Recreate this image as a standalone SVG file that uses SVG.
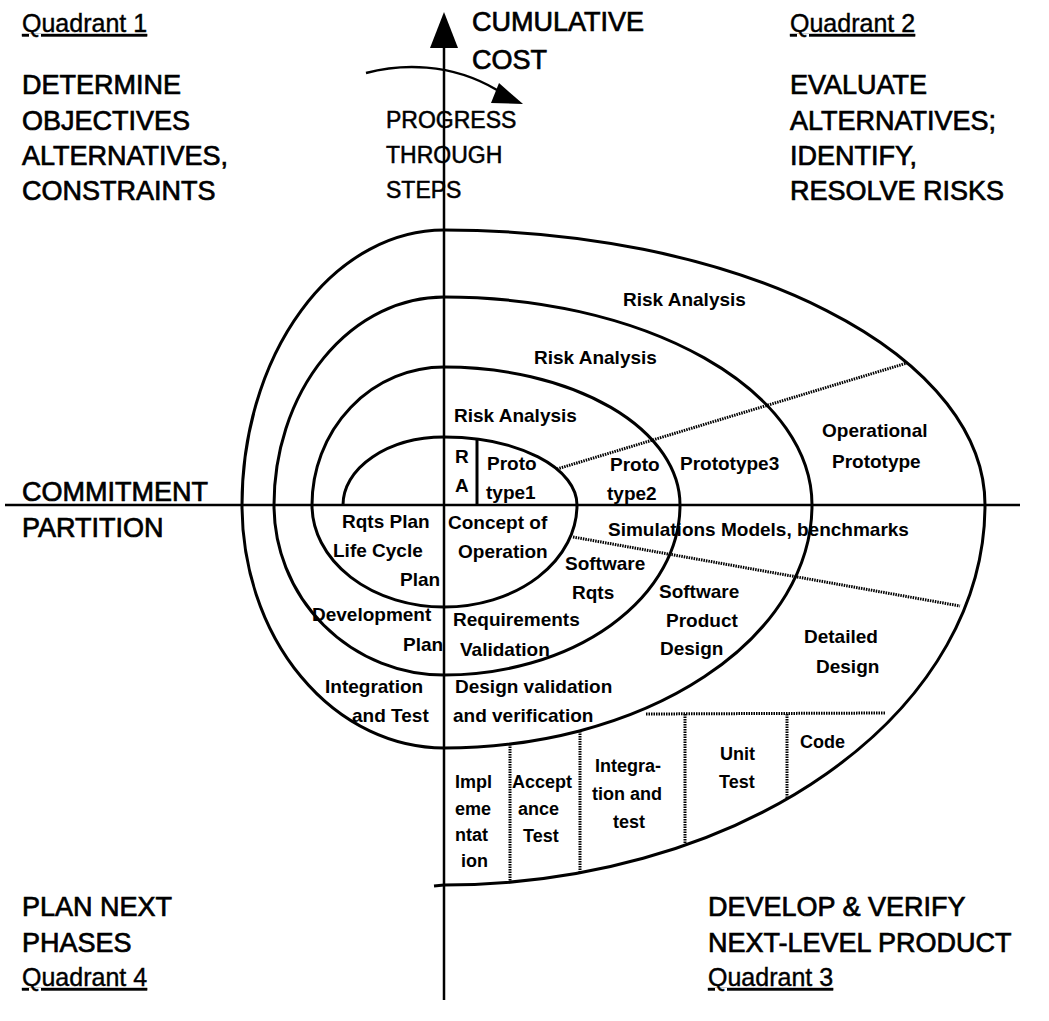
<svg xmlns="http://www.w3.org/2000/svg" width="1049" height="1021" viewBox="0 0 1049 1021">
<style>
text{font-family:"Liberation Sans",Arial,sans-serif;fill:#000}
.q{font-size:25px;text-decoration:underline;stroke:#000;stroke-width:0.4}
.big{font-size:27px;stroke:#000;stroke-width:0.7}
.mid{font-size:23px;stroke:#000;stroke-width:0.5}
.l{font-size:19px;font-weight:bold}
.s{font-size:18px;font-weight:bold}
.ln{fill:none;stroke:#000;stroke-width:3}
.ax{fill:none;stroke:#000;stroke-width:2.5}
.dot{fill:none;stroke:#000;stroke-width:3;stroke-dasharray:1.5 1}
</style>
<rect width="1049" height="1021" fill="#fff"/>

<g id="connectors">
  <g id="axes">
    <line class="ax" x1="444" y1="44" x2="444" y2="1000"/>
    <polygon points="444,12 458,48 430,48" fill="#000"/>
    <line class="ax" x1="5" y1="505" x2="1020" y2="505"/>
    <path class="ax" d="M366,73 C400,64 450,62 497,90"/>
    <polygon points="499,83 523,104 491,103" fill="#000"/>
  </g>
  <path id="spiral" class="ln" d="M343,505 A101,68 0 0 1 444,437 A133,68 0 0 1 577,505 A133,102 0 0 1 444,607 A132,102 0 0 1 312,505 A132,138 0 0 1 444,367 A236,138 0 0 1 680,505 A236,170 0 0 1 444,675 A170,170 0 0 1 274,505 A170,208 0 0 1 444,297 A368,208 0 0 1 812,505 A368,243 0 0 1 444,748 A202,243 0 0 1 242,505 A202,275 0 0 1 444,230 A541,275 0 0 1 985,505 A541,380 0 0 1 444,885 L434,886"/>
  <line class="ln" x1="477" y1="439" x2="477" y2="505"/>
  <g id="dotted">
    <line class="dot" x1="557" y1="469" x2="907" y2="363"/>
    <line class="dot" x1="573" y1="537" x2="960" y2="606"/>
    <line class="dot" x1="646" y1="714" x2="886" y2="713"/>
    <line class="dot" x1="510" y1="744" x2="510" y2="882"/>
    <line class="dot" x1="580" y1="731" x2="580" y2="873"/>
    <line class="dot" x1="685" y1="714" x2="685" y2="845"/>
    <line class="dot" x1="787" y1="714" x2="787" y2="799"/>
  </g>
</g>

<g id="quadrant1">
  <text class="q" x="22" y="32">Quadrant 1</text>
  <text class="big" x="22" y="94">DETERMINE</text>
  <text class="big" x="22" y="130">OBJECTIVES</text>
  <text class="big" x="22" y="165">ALTERNATIVES,</text>
  <text class="big" x="22" y="200">CONSTRAINTS</text>
</g>
<g id="axis-labels">
  <text class="big" x="472" y="31">CUMULATIVE</text>
  <text class="big" x="472" y="69">COST</text>
  <text class="mid" x="386" y="128">PROGRESS</text>
  <text class="mid" x="386" y="163">THROUGH</text>
  <text class="mid" x="386" y="198">STEPS</text>
  <text class="big" x="22" y="501">COMMITMENT</text>
  <text class="big" x="22" y="537">PARTITION</text>
</g>
<g id="quadrant2">
  <text class="q" x="790" y="32">Quadrant 2</text>
  <text class="big" x="790" y="94">EVALUATE</text>
  <text class="big" x="790" y="130">ALTERNATIVES;</text>
  <text class="big" x="790" y="165">IDENTIFY,</text>
  <text class="big" x="790" y="200">RESOLVE RISKS</text>
</g>
<g id="quadrant4">
  <text class="big" x="22" y="916">PLAN NEXT</text>
  <text class="big" x="22" y="952">PHASES</text>
  <text class="q" x="22" y="986">Quadrant 4</text>
</g>
<g id="quadrant3">
  <text class="big" x="708" y="916">DEVELOP &amp; VERIFY</text>
  <text class="big" x="708" y="952">NEXT-LEVEL PRODUCT</text>
  <text class="q" x="708" y="986">Quadrant 3</text>
</g>

<g id="risk-analysis">
  <text class="l" x="623" y="306">Risk Analysis</text>
  <text class="l" x="534" y="364">Risk Analysis</text>
  <text class="l" x="454" y="422">Risk Analysis</text>
  <text class="l" x="455" y="463">R</text>
  <text class="l" x="455" y="492">A</text>
</g>
<g id="prototypes">
  <text class="l" x="487" y="470">Proto</text>
  <text class="l" x="486" y="499">type1</text>
  <text class="l" x="610" y="471">Proto</text>
  <text class="l" x="607" y="500">type2</text>
  <text class="l" x="680" y="470">Prototype3</text>
  <text class="l" x="822" y="437">Operational</text>
  <text class="l" x="832" y="468">Prototype</text>
  <text class="l" x="608" y="536">Simulations Models, benchmarks</text>
</g>
<g id="plans">
  <text class="l" x="342" y="528">Rqts Plan</text>
  <text class="l" x="333" y="557">Life Cycle</text>
  <text class="l" x="400" y="586">Plan</text>
  <text class="l" x="312" y="621">Development</text>
  <text class="l" x="403" y="651">Plan</text>
  <text class="l" x="325" y="693">Integration</text>
  <text class="l" x="352" y="722">and Test</text>
</g>
<g id="requirements">
  <text class="l" x="448" y="529">Concept of</text>
  <text class="l" x="458" y="558">Operation</text>
  <text class="l" x="565" y="570">Software</text>
  <text class="l" x="572" y="599">Rqts</text>
  <text class="l" x="453" y="626">Requirements</text>
  <text class="l" x="460" y="656">Validation</text>
  <text class="l" x="659" y="598">Software</text>
  <text class="l" x="666" y="627">Product</text>
  <text class="l" x="660" y="655">Design</text>
  <text class="l" x="804" y="643">Detailed</text>
  <text class="l" x="816" y="673">Design</text>
  <text class="l" x="455" y="693">Design validation</text>
  <text class="l" x="453" y="722">and verification</text>
</g>
<g id="build-steps">
  <text class="s" x="455" y="788">Impl</text>
  <text class="s" x="455" y="815">eme</text>
  <text class="s" x="455" y="841">ntat</text>
  <text class="s" x="461" y="867">ion</text>
  <text class="s" x="512" y="788">Accept</text>
  <text class="s" x="518" y="815">ance</text>
  <text class="s" x="523" y="842">Test</text>
  <text class="s" x="595" y="772">Integra-</text>
  <text class="s" x="592" y="800">tion and</text>
  <text class="s" x="613" y="828">test</text>
  <text class="s" x="720" y="760">Unit</text>
  <text class="s" x="719" y="788">Test</text>
  <text class="s" x="800" y="748">Code</text>
</g>
</svg>
